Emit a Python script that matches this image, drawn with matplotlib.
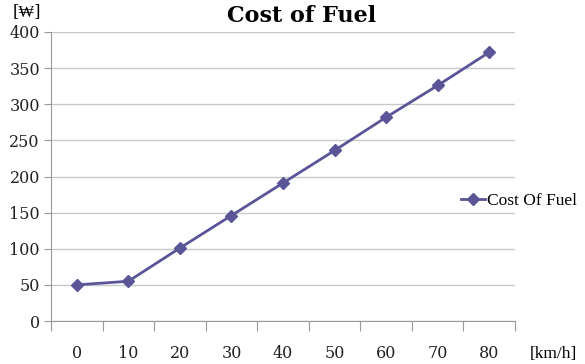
import matplotlib.pyplot as plt

speeds = ['0', '10', '20', '30', '40', '50', '60', '70', '80']
cost = [50, 55, 101, 146, 191, 236, 282, 326, 372]
y_ticks = [0, 50, 100, 150, 200, 250, 300, 350, 400]

LINE_COLOR = '#5a5597'
SERIF = ['Liberation Serif', 'DejaVu Serif']
WIDE = ['DejaVu Serif', 'Liberation Serif']

plt.rcParams['font.family'] = SERIF

fig = plt.figure(figsize=(5.85, 3.64), dpi=100)
ax = fig.add_axes([51 / 585, 43 / 364, 464 / 585, 289 / 364])

x = list(range(len(speeds)))
ax.plot(x, cost, color=LINE_COLOR, linewidth=2, marker='D', markersize=6,
        label='Cost Of Fuel', zorder=5)

ax.set_xlim(-0.5, len(speeds) - 0.5)
ax.set_ylim(0, 400)
ax.set_yticks(y_ticks)
ax.set_yticklabels([str(v) for v in y_ticks], fontsize=11.5, color='#222222',
                   family=WIDE)
ax.grid(True, axis='y', color='#c8c8c8', linewidth=1)
ax.set_axisbelow(True)

# category axis: ticks on boundaries, labels in centres
ax.set_xticks([i - 0.5 for i in range(len(speeds) + 1)])
ax.set_xticklabels([])
ax.set_xticks(x, minor=True)
ax.set_xticklabels(speeds, minor=True, fontsize=11.5, color='#222222', family=WIDE)
ax.tick_params(axis='x', which='major', length=7, color='#999999', direction='out')
ax.tick_params(axis='x', which='minor', length=0, pad=17)
ax.tick_params(axis='y', length=5, color='#999999', pad=3)

for side in ['top', 'right']:
    ax.spines[side].set_visible(False)
ax.spines['left'].set_color('#999999')
ax.spines['bottom'].set_color('#999999')

fig.text(302 / 585, 1 - 16 / 364, 'Cost of Fuel', ha='center', va='center',
         fontsize=16, fontweight='bold', family=WIDE)
fig.text(27 / 585, 1 - 12 / 364, '[₩]', ha='center', va='center', fontsize=12,
         family=WIDE)
fig.text(530 / 585, 1 - 354 / 364, '[km/h]', ha='left', va='center',
         fontsize=12.5, family=SERIF)

ax.legend(loc='center left', bbox_to_anchor=(452 / 585, 1 - 201 / 364),
          bbox_transform=fig.transFigure, frameon=False, fontsize=12.5,
          handlelength=1.4, handletextpad=0.1, borderpad=0)

fig.savefig('out.png', dpi=100)
